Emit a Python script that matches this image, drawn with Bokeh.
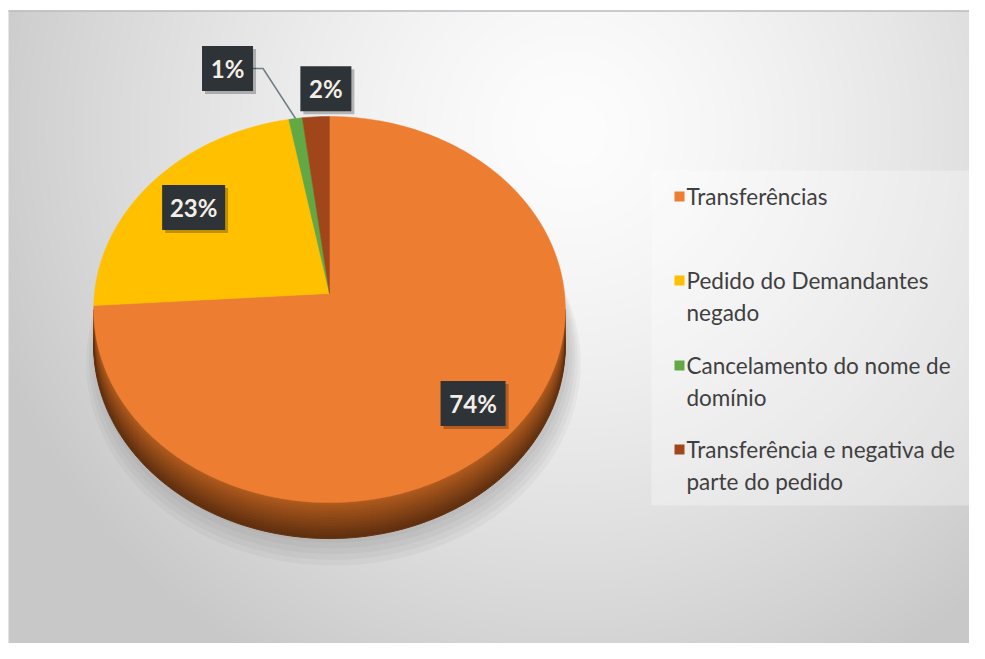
import numpy as np
from bokeh.plotting import figure
from bokeh.models import Range1d
from bokeh.core.properties import value
from bokeh.embed import file_html
from bokeh.resources import INLINE

# ---------------- data ----------------
categories = ["Transferências", "Pedido do Demandantes negado",
              "Cancelamento do nome de domínio",
              "Transferência e negativa de parte do pedido"]
legend_lines = [["Transferências"], ["Pedido do Demandantes", "negado"],
                ["Cancelamento do nome de", "domínio"],
                ["Transferência e negativa de", "parte do pedido"]]
shares = [74, 23, 1, 2]
labels = ["74%", "23%", "1%", "2%"]
colors = ["#ED7D31", "#FFC000", "#62A844", "#A0461A"]

# ---------------- layout ----------------
W, H = 969, 643
CX, CY = 329, 293          # projected centre of the disc
A, B, K = 235.0, 191.7, 0.083
DEPTH = 36

p = figure(width=W, height=H, output_backend="svg", toolbar_location=None,
           x_range=Range1d(0, W), y_range=Range1d(H, 0), min_border=0)
p.axis.visible = False
p.grid.visible = False
p.outline_line_color = None
p.background_fill_color = "white"
p.border_fill_color = "white"

# background gradient (chart area starts at x=8, y=10)
yy, xx = np.mgrid[0:H, 0:W].astype(float)
t = np.sqrt(((xx - 570) / 620) ** 2 + ((yy - 130) / 620) ** 2)
t = np.clip(t, 0, 1) ** 1.4
g = (253 - (253 - 200) * t).astype(np.uint8)
img = np.zeros((H, W, 4), dtype=np.uint8)
img[..., 0] = g
img[..., 1] = g
img[..., 2] = np.clip(g.astype(int) + 1, 0, 255).astype(np.uint8)
img[..., 3] = 255
img[:10, :, :3] = 255
img[:, :8, :3] = 255
p.image_rgba(image=[img.view(np.uint32).reshape(H, W)], x=0, y=0, dw=W, dh=H)
p.line([8, W], [10.5, 10.5], line_color="#b9bdc0", line_width=1.5)


def proj(r, th):
    u = r * np.sin(th)
    v = -r * np.cos(th)
    w = 1 - K * v
    return CX + A * u / w, CY + B * v / w


total = float(sum(shares))
bounds = np.concatenate([[0], np.cumsum(shares)]) / total * 2 * np.pi

# shadow under the pie
for i in range(5):
    th = np.linspace(0, 2 * np.pi, 200)
    sx, sy = proj(1.0 + 0.012 * i, th)
    p.patch(sx + 4, sy + DEPTH + 4 + 3 * i, fill_color="#555555", fill_alpha=0.05,
            line_color=None)

# side of the cylinder (front half), banded to imitate a gradient
a0 = np.arccos(-K)
th_side = np.linspace(a0, 2 * np.pi - a0, 240)
tx, ty = proj(1.0, th_side)
c_top = np.array([0xAE, 0x5A, 0x1D])
c_bot = np.array([0x62, 0x30, 0x0F])
NB = 12
for i in range(NB):
    d0 = DEPTH * i / NB
    d1 = DEPTH * (i + 1) / NB
    f = i / (NB - 1)
    c = (c_top * (1 - f) + c_bot * f).astype(int)
    col = "#%02x%02x%02x" % tuple(c)
    p.patch(np.concatenate([tx, tx[::-1]]),
            np.concatenate([ty + d0, (ty + d1)[::-1]]),
            fill_color=col, line_color=col, line_width=1)

# top slices
for i in range(len(shares)):
    th = np.linspace(bounds[i], bounds[i + 1], max(4, int(shares[i] * 4)))
    px, py = proj(1.0, th)
    p.patch(np.concatenate([[CX], px]), np.concatenate([[CY], py]),
            fill_color=colors[i], line_color=colors[i], line_width=0.5)

# data labels
mids = (bounds[:-1] + bounds[1:]) / 2
inside_r = [0.80, 0.76, None, None]
outside_off = [None, None, (-68, -50), (10, -28)]
box_w = [65, 63, 51, 51]
box_h = 45
lx, ly = [], []
for i in range(len(shares)):
    if inside_r[i] is not None:
        x, y = proj(inside_r[i], mids[i])
    else:
        x0, y0 = proj(1.0, mids[i])
        x, y = x0 + outside_off[i][0], y0 + outside_off[i][1]
    lx.append(float(x))
    ly.append(float(y))

# leader line for the small slice
gx, gy = proj(1.0, mids[2])
p.line([lx[2] + box_w[2] / 2, lx[2] + box_w[2] / 2 + 10, float(gx)],
       [ly[2], ly[2], float(gy)], line_color="#6f7f86", line_width=1.5)

p.rect(x=[v + 3 for v in lx], y=[v + 3 for v in ly], width=box_w, height=box_h,
       fill_color="black", fill_alpha=0.25, line_color=None)
p.rect(x=lx, y=ly, width=box_w, height=box_h, fill_color="#2e3337",
       line_color=None)
p.text(x=lx, y=ly, text=labels, text_align="center", text_baseline="middle",
       text_color="#f4eee8", text_font=value("Lato"), text_font_style="bold",
       text_font_size="24px")

# legend
p.rect(x=[814], y=[337.5], width=326, height=335, fill_color="white",
       fill_alpha=0.3, line_color=None)
row_y = [196, 280, 365, 449]
line_gap = 32
for i in range(len(categories)):
    p.rect(x=[679], y=[row_y[i]], width=10, height=10, fill_color=colors[i],
           line_color=None)
    for j, txt in enumerate(legend_lines[i]):
        p.text(x=[686], y=[row_y[i] + j * line_gap], text=[txt],
               text_align="left", text_baseline="middle", text_color="#3f3f3f",
               text_font=value("Lato"), text_font_size="22.5px")

open("out.html", "w").write(file_html(p, INLINE))
